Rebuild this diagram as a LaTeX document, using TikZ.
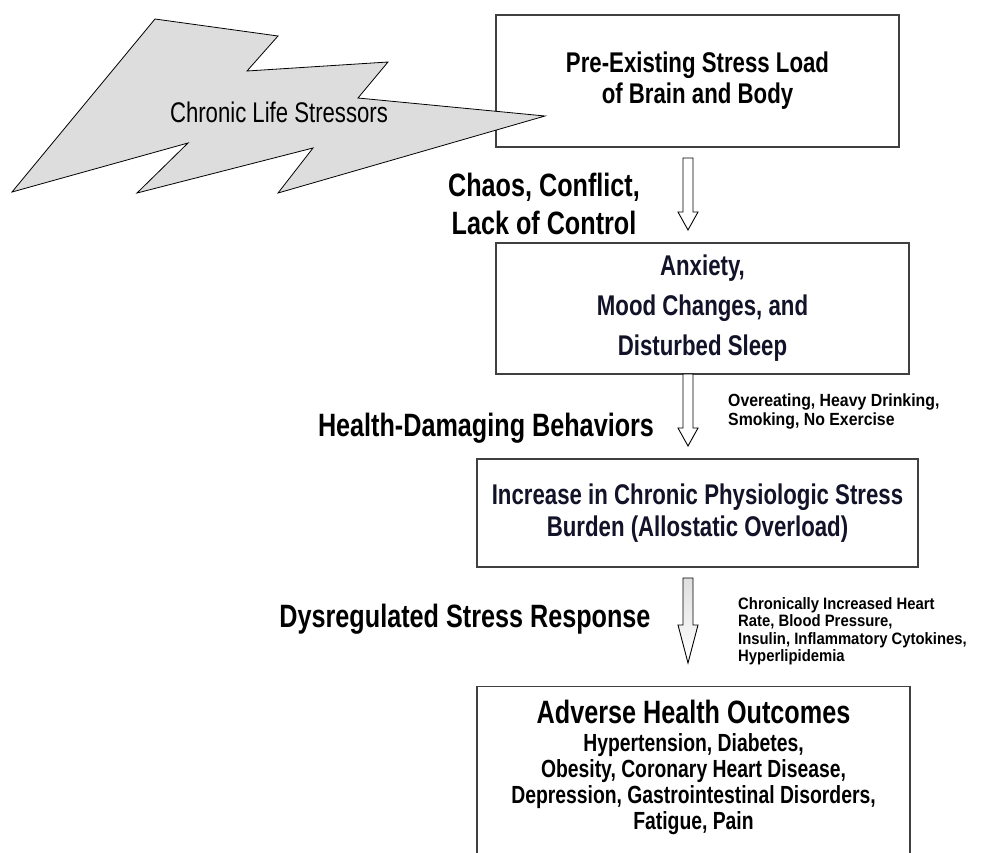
\documentclass[tikz,border=0pt]{standalone}
\usepackage{fontspec}
\setmainfont{Liberation Sans}[FakeStretch=0.78]
\newfontfamily\notefont{Liberation Sans}[FakeStretch=0.9]
\usetikzlibrary{calc}

\definecolor{boxline}{RGB}{64,64,64}
\definecolor{boltgray}{RGB}{221,221,221}
\definecolor{inktext}{RGB}{18,18,40}

\tikzset{
	box/.style={draw=boxline, line width=1.3pt, fill=white, align=center, inner sep=0pt},
	boxtext/.style={font=\bfseries\fontsize{28.5}{31}\selectfont},
	bigtext/.style={font=\bfseries\fontsize{32.3}{38}\selectfont, align=center, inner sep=0pt},
	smalltext/.style={font=\notefont\bfseries\fontsize{17.6}{19}\selectfont, align=left, inner sep=0pt, anchor=west},
	bolt/.style={draw=black, line width=0.8pt, fill=boltgray},
	hollow/.style={draw=black, line width=0.9pt, fill=white},
}

\newcommand{\blockarrow}[4][hollow]{%
	\draw[#1] let \p1=(#2), \p2=(#3) in
		(\x1-5pt,\y1) -- (\x1+5pt,\y1) -- (\x1+5pt,\y2+#4) -- (\x1+10pt,\y2+#4)
		-- (\x2,\y2) -- (\x1-10pt,\y2+#4) -- (\x1-5pt,\y2+#4) -- cycle;}

\begin{document}
\begin{tikzpicture}[x=1pt, y=-1pt]
	\useasboundingbox (0,0) rectangle (985,852);

	\node[box, boxtext, minimum width=403, minimum height=132] (load) at (697.5,81) {Pre-Existing Stress Load\\of Brain and Body};
	\node[box, boxtext, font=\bfseries\fontsize{28.5}{40}\selectfont, text=inktext, minimum width=413, minimum height=131] (mood) at (702.5,308.5) {Anxiety,\\Mood Changes, and\\Disturbed Sleep};
	\node[box, boxtext, font=\bfseries\fontsize{28.5}{32}\selectfont, text=inktext, minimum width=441, minimum height=108] (burden) at (697.5,513) {Increase in Chronic Physiologic Stress\\Burden (Allostatic Overload)};
	\node[box, minimum width=433, minimum height=190, anchor=north] (outcomes) at (693.5,686) {};
	\node[align=center, inner sep=0pt, font=\bfseries\fontsize{24.8}{26}\selectfont] (outcometext) at (693.5,767) {{\fontsize{32.3}{28}\selectfont Adverse Health Outcomes}\\[2pt]Hypertension, Diabetes,\\Obesity, Coronary Heart Disease,\\Depression, Gastrointestinal Disorders,\\Fatigue, Pain};

	\draw[bolt] (155,19) -- (278,36) -- (247,71) -- (388,62) -- (358,98) -- (545,116) -- (278,193) -- (313,148) -- (137,193) -- (188,143) -- (12,192) -- cycle;
	\node[font=\fontsize{28.4}{28}\selectfont, inner sep=0pt] (stressors) at (279,112) {Chronic Life Stressors};

	\coordinate (arr1top) at (688,158);
	\coordinate (arr1tip) at (688,230);
	\coordinate (arr2top) at (688,374);
	\coordinate (arr2tip) at (688,446);
	\coordinate (arr3top) at (688,578);
	\coordinate (arr3tip) at (688,663);

	\blockarrow{arr1top}{arr1tip}{18pt}
	\blockarrow{arr2top}{arr2tip}{18pt}
	\blockarrow[hollow, top color=gray!25, bottom color=white]{arr3top}{arr3tip}{38pt}

	\node[bigtext] (chaos) at (544,204) {Chaos, Conflict,\\Lack of Control};
	\node[bigtext] (behaviors) at (486,428) {Health-Damaging Behaviors};
	\node[bigtext] (dysreg) at (465,619) {Dysregulated Stress Response};

	\node[smalltext] (habits) at (728,411) {Overeating, Heavy Drinking,\\Smoking, No Exercise};
	\node[smalltext, font=\notefont\bfseries\fontsize{16.5}{17.5}\selectfont] (markers) at (738,631) {Chronically Increased Heart\\Rate, Blood Pressure,\\Insulin, Inflammatory Cytokines,\\Hyperlipidemia};

\end{tikzpicture}
\end{document}
